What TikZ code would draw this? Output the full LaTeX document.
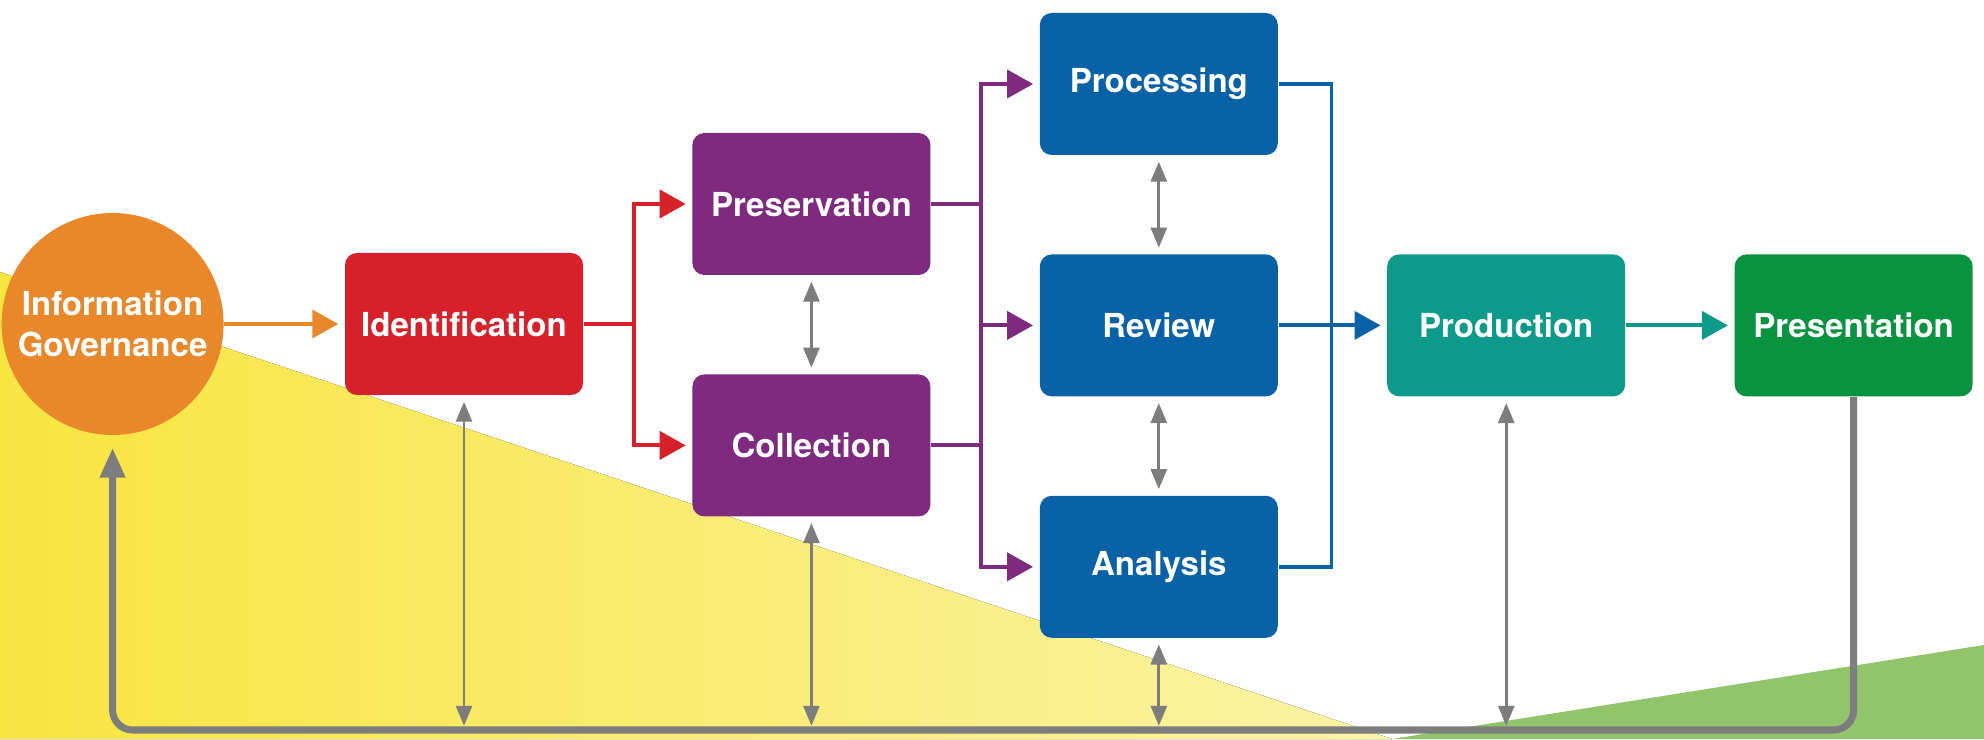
\documentclass[tikz,border=0pt]{standalone}
\usepackage{fontspec}
\setmainfont{TeX Gyre Heros}
\usepackage{xcolor}
\usetikzlibrary{arrows.meta,positioning}

\definecolor{govorange}{HTML}{E8882B}
\definecolor{idred}{HTML}{D6212B}
\definecolor{prepurple}{HTML}{7E2A7E}
\definecolor{revblue}{HTML}{0A62A6}
\definecolor{prodteal}{HTML}{0E9A8B}
\definecolor{presgreen}{HTML}{099341}
\definecolor{loopgray}{HTML}{7D7D7D}
\definecolor{yellowA}{HTML}{F8E540}
\definecolor{yellowB}{HTML}{FBF3A6}
\definecolor{grassgreen}{HTML}{91C46B}

\begin{document}
\begin{tikzpicture}[
    node distance=9.8mm and 10.8mm,
    stage/.style={rounded corners=1.2mm, text=white, align=center, minimum width=23.8mm, minimum height=14.2mm, font=\fontsize{9.4}{11.5}\selectfont\bfseries},
    govdisc/.style={circle, text=white, align=center, minimum size=22.2mm, inner sep=0pt, font=\fontsize{9.4}{11.5}\selectfont\bfseries},
    flow/.style={-{Triangle[length=2.6mm,width=2.8mm]}, line width=1.1pt, shorten >=0.6mm},
    link/.style={line width=1.1pt},
    twoway/.style={{Triangle[length=2mm,width=1.6mm]}-{Triangle[length=2mm,width=1.6mm]}, loopgray, line width=0.8pt, shorten >=0.6mm, shorten <=0.6mm},
    feedback/.style={-{Triangle[length=3mm,width=2.4mm]}, loopgray, line width=2pt, rounded corners=2mm, shorten >=1.2mm}
]
\useasboundingbox (0,0) rectangle (19.84,7.39);
\fill[left color=yellowA, right color=yellowB] (0,4.67) -- (13.92,0) -- (0,0) -- cycle;
\fill[grassgreen] (13.92,0) -- (19.84,0.94) -- (19.84,0) -- cycle;

\node[stage, fill=idred] (ident) at (4.64,4.15) {Identification};
\node[govdisc, fill=govorange, left=12mm of ident] (gov) {Information\\Governance};
\node[stage, fill=prepurple, right=of ident, yshift=12mm] (preserv) {Preservation};
\node[stage, fill=prepurple, below=of preserv] (collect) {Collection};
\node[stage, fill=revblue, right=of preserv, yshift=12mm] (process) {Processing};
\node[stage, fill=revblue, below=of process] (review) {Review};
\node[stage, fill=revblue, below=of review] (analysis) {Analysis};
\node[stage, fill=prodteal, right=of review] (prod) {Production};
\node[stage, fill=presgreen, right=of prod] (present) {Presentation};

\coordinate[right=5mm of preserv.east] (psplit);
\coordinate[right=5.3mm of review.east] (bsplit);
\coordinate (base) at (0,0.09);

\draw[flow, govorange] (gov) -- (ident);
\draw[flow, idred] (ident.east) -- ++(5mm,0) |- (preserv.west);
\draw[flow, idred] (ident.east) -- ++(5mm,0) |- (collect.west);
\draw[link, prepurple] (preserv.east) -- (psplit) -- (psplit |- collect.east) -- (collect.east);
\draw[flow, prepurple] (psplit) |- (process.west);
\draw[flow, prepurple] (psplit |- collect.east) |- (analysis.west);
\draw[flow, prepurple] (psplit |- review.west) -- (review.west);
\draw[link, revblue] (process.east) -| (bsplit) |- (analysis.east);
\draw[flow, revblue] (review.east) -- (prod.west);
\draw[flow, prodteal] (prod) -- (present);

\draw[twoway] (preserv) -- (collect);
\draw[twoway] (process) -- (review);
\draw[twoway] (review) -- (analysis);
\draw[twoway, shorten <=1.2pt] (ident.south |- base) -- (ident.south);
\draw[twoway, shorten <=1.2pt] (collect.south |- base) -- (collect.south);
\draw[twoway, shorten <=1.2pt] (analysis.south |- base) -- (analysis.south);
\draw[twoway, shorten <=1.2pt] (prod.south |- base) -- (prod.south);
\draw[feedback] (present.south) -- (present.south |- base) -- (gov.south |- base) -- (gov.south);
\end{tikzpicture}
\end{document}
